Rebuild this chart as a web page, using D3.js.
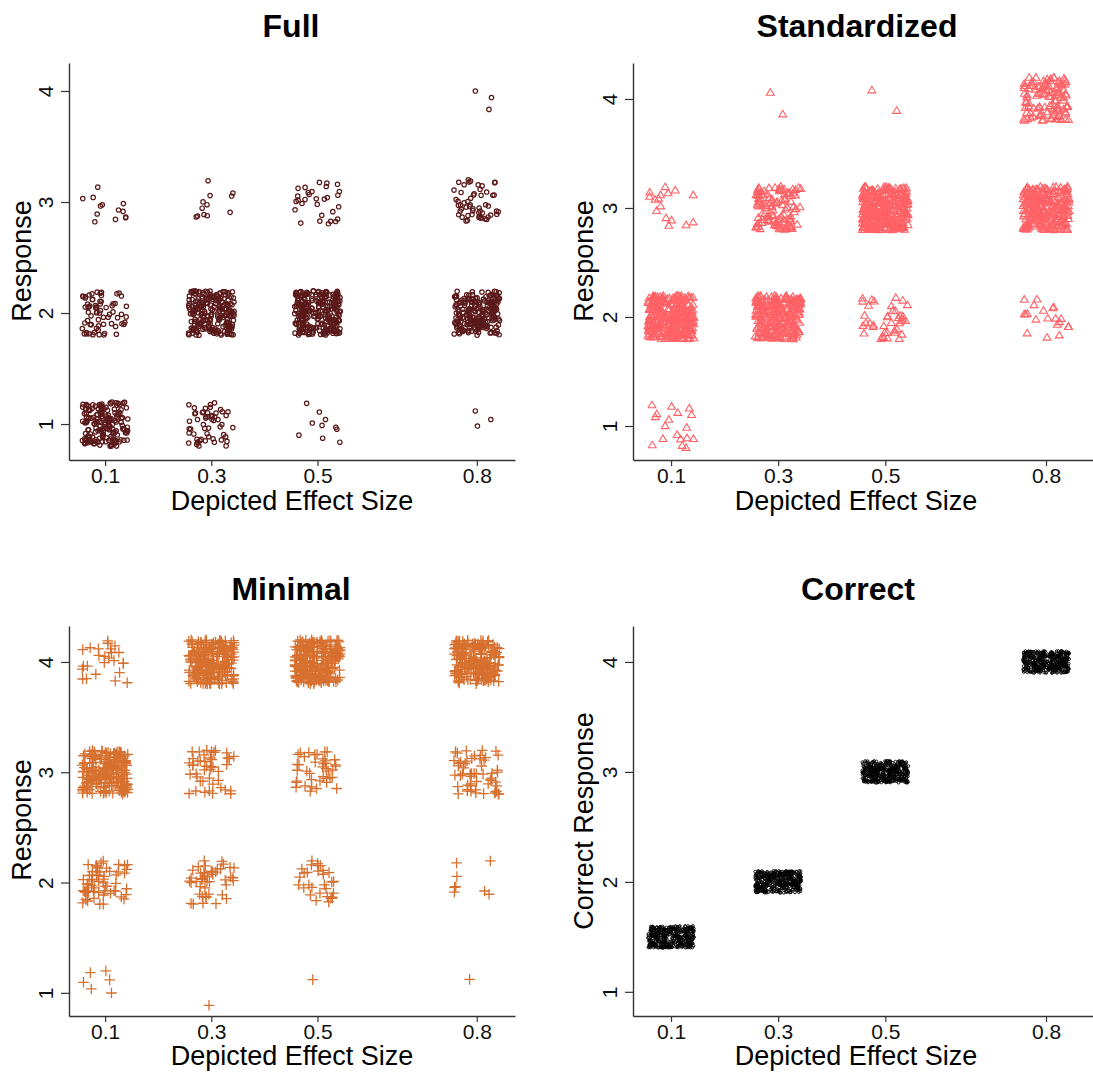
<!DOCTYPE html>
<html>
<head>
<meta charset="utf-8">
<script src="https://cdn.jsdelivr.net/npm/d3@7"></script>
<style>
  html, body { margin: 0; padding: 0; background: #fff; }
  svg { display: block; font-family: "Liberation Sans", Arial, sans-serif; }
</style>
</head>
<body>
<svg id="chart" width="1093" height="1088"></svg>
<script>
// ---------------- DATA ----------------
const effectSizes = [0.1, 0.3, 0.5, 0.8];
const effectTickLabels = ["0.1", "0.3", "0.5", "0.8"];
const responseLevels = [1, 2, 3, 4];
const responseTickLabels = ["1", "2", "3", "4"];
const panelTitles = ["Full", "Standardized", "Minimal", "Correct"];

// number of answers per (effect size, response) cell
// rows: effect size 0.1, 0.3, 0.5, 0.8 ; columns: response 1, 2, 3, 4
const fullCounts = [
  [180, 70, 13, 0],
  [55, 230, 12, 0],
  [10, 260, 30, 0],
  [3, 220, 55, 3]
];
const standardizedCounts = [
  [18, 300, 16, 0],
  [0, 250, 110, 2],
  [0, 40, 290, 2],
  [0, 20, 250, 110]
];
const minimalCounts = [
  [6, 60, 200, 25],
  [1, 45, 45, 220],
  [1, 30, 40, 240],
  [1, 8, 55, 200]
];
// correct response for each depicted effect size
const correctResponse = [1.5, 2, 3, 4];
const correctCounts = [400, 400, 400, 400];

// ---------------- LAYOUT / STYLE ----------------
const svg = d3.select("#chart");
const FONT = '"Liberation Sans", Arial, sans-serif';

// deterministic jitter generator (layout only, like R's jitter())
function makeJitter(seed) {
  let a = seed >>> 0;
  return function () {
    a |= 0; a = a + 0x6D2B79F5 | 0;
    let t = Math.imul(a ^ a >>> 15, 1 | a);
    t = t + Math.imul(t ^ t >>> 7, 61 | t) ^ t;
    return ((t ^ t >>> 14) >>> 0) / 4294967296;
  };
}

const panels = [
  { title: panelTitles[0], counts: fullCounts, marker: "circle", color: "#5A1919",
    x0: 69, x1: 515, xd: [0.032, 0.872], yTop: 63, yBot: 460, yd: [0.676, 4.252],
    titleX: 291, titleY: 37, ylab: "Response", ylabX: 31, ylabY: 261, xlabY: 510,
    yjit: 0.2, seed: 11 },
  { title: panelTitles[1], counts: standardizedCounts, marker: "triangle", color: "#FF6266",
    x0: 633, x1: 1093, xd: [0.029, 0.8877], yTop: 63, yBot: 460, yd: [0.688, 4.33],
    titleX: 857, titleY: 37, ylab: "Response", ylabX: 593, ylabY: 261, xlabY: 510,
    yjit: 0.2, seed: 23 },
  { title: panelTitles[2], counts: minimalCounts, marker: "plus", color: "#D7702F",
    x0: 69, x1: 515, xd: [0.032, 0.872], yTop: 626, yBot: 1016, yd: [0.79, 4.326],
    titleX: 291, titleY: 600, ylab: "Response", ylabX: 31, ylabY: 820, xlabY: 1065,
    yjit: 0.2, seed: 37 },
  { title: panelTitles[3], counts: null, marker: "dot", color: "#000000",
    x0: 633, x1: 1093, xd: [0.029, 0.8877], yTop: 626, yBot: 1016, yd: [0.78, 4.327],
    titleX: 858, titleY: 600, ylab: "Correct Response", ylabX: 593, ylabY: 821, xlabY: 1065,
    yjit: 0.1, seed: 53 }
];

const XJIT = 0.043;

panels.forEach(p => {
  const x = d3.scaleLinear().domain(p.xd).range([p.x0, p.x1]);
  const y = d3.scaleLinear().domain(p.yd).range([p.yBot, p.yTop]);
  const g = svg.append("g");

  // build jittered points from counts
  const rnd = makeJitter(p.seed);
  const pts = [];
  effectSizes.forEach((es, i) => {
    if (p.counts) {
      responseLevels.forEach((r, j) => {
        for (let k = 0; k < p.counts[i][j]; k++) {
          pts.push({ es, r, jx: (rnd() * 2 - 1) * XJIT, jy: (rnd() * 2 - 1) * p.yjit });
        }
      });
    } else {
      for (let k = 0; k < correctCounts[i]; k++) {
        pts.push({ es, r: correctResponse[i], jx: (rnd() * 2 - 1) * XJIT, jy: (rnd() * 2 - 1) * p.yjit });
      }
    }
  });

  const pg = g.append("g");
  if (p.marker === "circle") {
    pg.selectAll("circle").data(pts).join("circle")
      .attr("cx", d => x(d.es + d.jx)).attr("cy", d => y(d.r + d.jy))
      .attr("r", 2.2).attr("fill", "none").attr("stroke", p.color).attr("stroke-width", 1.2);
  } else if (p.marker === "triangle") {
    pg.selectAll("path").data(pts).join("path")
      .attr("transform", d => `translate(${x(d.es + d.jx)},${y(d.r + d.jy)})`)
      .attr("d", "M0,-3.6L3.9,3L-3.9,3Z")
      .attr("fill", "none").attr("stroke", p.color).attr("stroke-width", 1.1);
  } else if (p.marker === "plus") {
    pg.selectAll("path").data(pts).join("path")
      .attr("transform", d => `translate(${x(d.es + d.jx)},${y(d.r + d.jy)})`)
      .attr("d", "M-5.3,0H5.3M0,-5.3V5.3")
      .attr("fill", "none").attr("stroke", p.color).attr("stroke-width", 1.3);
  } else {
    pg.selectAll("circle").data(pts).join("circle")
      .attr("cx", d => x(d.es + d.jx)).attr("cy", d => y(d.r + d.jy))
      .attr("r", 1.4).attr("fill", "none").attr("stroke", p.color).attr("stroke-width", 0.9);
  }

  // x axis
  const xa = g.append("g").attr("transform", `translate(0,${p.yBot})`)
    .call(d3.axisBottom(x).tickValues(effectSizes).tickFormat((d, i) => effectTickLabels[i])
      .tickSize(6).tickSizeOuter(0));
  xa.select(".domain").attr("stroke", "#333").attr("stroke-width", 1.4);
  xa.selectAll(".tick line").attr("stroke", "#333").attr("stroke-width", 1.2);
  xa.selectAll(".tick text").attr("y", 23).attr("dy", 0)
    .attr("font-family", FONT).attr("font-size", 21).attr("fill", "#111");

  // y axis
  const ya = g.append("g").attr("transform", `translate(${p.x0},0)`)
    .call(d3.axisLeft(y).tickValues(responseLevels).tickFormat((d, i) => responseTickLabels[i])
      .tickSize(8).tickSizeOuter(0));
  ya.select(".domain").attr("stroke", "#333").attr("stroke-width", 1.4);
  ya.selectAll(".tick line").attr("stroke", "#333").attr("stroke-width", 1.2);
  ya.selectAll(".tick text").attr("x", null).attr("dy", 0)
    .attr("transform", "translate(-16,0) rotate(-90)")
    .attr("text-anchor", "middle")
    .attr("font-family", FONT).attr("font-size", 21).attr("fill", "#111");

  // title
  g.append("text").attr("x", p.titleX).attr("y", p.titleY)
    .attr("text-anchor", "middle").attr("font-family", FONT)
    .attr("font-weight", "bold").attr("font-size", 32).attr("fill", "#000")
    .text(p.title);

  // x label
  g.append("text").attr("x", (p.x0 + Math.min(p.x1, p.x0 + 446)) / 2).attr("y", p.xlabY)
    .attr("text-anchor", "middle").attr("font-family", FONT)
    .attr("font-size", 27).attr("fill", "#000")
    .text("Depicted Effect Size");

  // y label
  g.append("text").attr("transform", `translate(${p.ylabX},${p.ylabY}) rotate(-90)`)
    .attr("text-anchor", "middle").attr("font-family", FONT)
    .attr("font-size", 27).attr("fill", "#000")
    .text(p.ylab);
});
</script>
</body>
</html>
